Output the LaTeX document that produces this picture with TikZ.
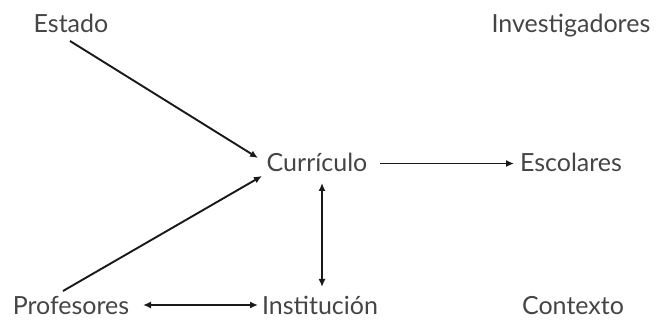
\documentclass[tikz,border=0pt]{standalone}
\usepackage{fontspec}
\setmainfont{Lato}
\usetikzlibrary{arrows.meta}
\definecolor{txt}{HTML}{454545}
\begin{document}
\begin{tikzpicture}[x=1pt,y=1pt,
  lbl/.style={font=\fontsize{25}{29}\selectfont, text=txt, inner sep=0pt, text height=17pt, text depth=0pt, anchor=base},
  conn/.style={line width=1.9pt, draw=black!90, -{Latex[length=8pt,width=7pt]}},
  biconn/.style={line width=1.9pt, draw=black!90, {Latex[length=8pt,width=7pt]}-{Latex[length=8pt,width=7pt]}}]
\useasboundingbox (0,0) rectangle (658,326);
\node[lbl] (est) at (71,293) {Estado};
\node[lbl] (inv) at (571,293) {Investigadores};
\node[lbl] (cur) at (317,154) {Currículo};
\node[lbl] (esc) at (571,154) {Escolares};
\node[lbl] (pro) at (71,11) {Profesores};
\node[lbl] (ins) at (320,11) {Institución};
\node[lbl] (con) at (573,11) {Contexto};
\draw[conn] ([xshift=-1pt,yshift=-16.5pt]est.center) -- ([xshift=-59pt,yshift=5.5pt]cur.center);
\draw[conn] ([xshift=-8pt,yshift=15.5pt]pro.center) -- ([xshift=-55pt,yshift=-12.5pt]cur.center);
\draw[conn] ([xshift=63pt]cur.center) -- ([xshift=-57pt]esc.center);
\draw[biconn] ([xshift=5pt,yshift=-19.5pt]cur.center) -- ([xshift=2pt,yshift=19.5pt]ins.center);
\draw[biconn] ([xshift=72pt,yshift=1.5pt]pro.center) -- ([xshift=-62pt,yshift=1.5pt]ins.center);
\end{tikzpicture}
\end{document}
